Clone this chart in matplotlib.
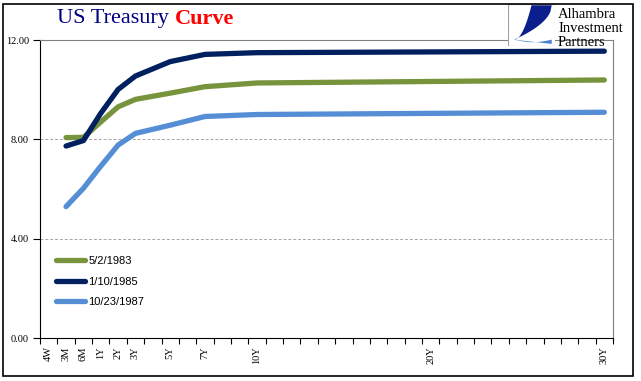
import numpy as np
import matplotlib.pyplot as plt
from matplotlib.patches import Rectangle, Polygon

# категории оси X (33 слота, как в Excel)
slots = ['4W', '3M', '6M'] + [f'{y}Y' for y in range(1, 31)]
shown = ['4W', '3M', '6M', '1Y', '2Y', '3Y', '5Y', '7Y', '10Y', '20Y', '30Y']

tenors = ['3M', '6M', '1Y', '2Y', '3Y', '5Y', '7Y', '10Y', '30Y']
y1983 = [8.07, 8.08, 8.70, 9.31, 9.61, 9.86, 10.12, 10.27, 10.39]
y1985 = [7.73, 7.95, 9.05, 10.01, 10.55, 11.13, 11.42, 11.49, 11.55]
y1987 = [5.29, 6.03, 6.92, 7.77, 8.24, 8.57, 8.92, 9.00, 9.09]

labels = ['5/2/1983', '1/10/1985', '10/23/1987']
colors = ['#77933C', '#002060', '#558ED5']
yticks = [0, 4, 8, 12]

serif = ['Liberation Serif', 'DejaVu Serif']
sans = ['Liberation Sans', 'DejaVu Sans']

fig = plt.figure(figsize=(6.41, 3.81), dpi=100)
W, H = 641, 381
ax = fig.add_axes([40 / W, 1 - 338 / H, (613 - 40) / W, (338 - 40) / H])

xs = [slots.index(t) for t in tenors]
for vals, lab, col in zip([y1983, y1985, y1987], labels, colors):
    ax.plot(xs, vals, color=col, lw=3.8, solid_capstyle='round',
            solid_joinstyle='round', label=lab, zorder=3)

ax.set_xlim(-0.5, len(slots) - 0.5)
ax.set_ylim(0, 12)

# деления на границах категорий, подписи по центру
ax.set_xticks([i - 0.5 for i in range(len(slots) + 1)])
ax.set_xticklabels([])
ax.tick_params(axis='x', which='major', direction='out', length=4, width=0.8)
ax.set_xticks([slots.index(s) for s in shown], minor=True)
ax.set_xticklabels(shown, minor=True, rotation=90, family=serif, fontsize=7.5)
ax.tick_params(axis='x', which='minor', length=0, pad=6)

ax.set_yticks(yticks)
ax.set_yticklabels([f'{v:.2f}' for v in yticks], family=serif, fontsize=7.5)
ax.tick_params(axis='y', direction='out', length=5, width=0.8, pad=3)

for v in [4, 8]:
    ax.axhline(v, color='#A6A6A6', lw=0.7, ls=(0, (3, 2)), zorder=1)

ax.spines['top'].set_color('#808080')
ax.spines['right'].set_color('#808080')
ax.spines['left'].set_color('black')
ax.spines['bottom'].set_color('black')

leg = ax.legend(loc='upper left', bbox_to_anchor=(56 / W, 1 - 256 / H),
                bbox_transform=fig.transFigure, frameon=False,
                prop={'family': sans, 'size': 8}, handlelength=2.6,
                handletextpad=0.3, labelspacing=0.95, borderpad=0,
                borderaxespad=0)

# заголовок
t1 = fig.text(57 / W, 1 - 19 / H, 'US Treasury ', color='#000080',
              family=serif, fontsize=16, va='center')
fig.canvas.draw()
bb = t1.get_window_extent()
fig.text(bb.x1 / W, 1 - 19 / H, 'Curve', color='#FF0000', family=serif,
         fontsize=16, fontweight='bold', va='center')

# логотип
lax = fig.add_axes([508 / W, 1 - 46 / H, 47 / W, 42 / H])
lax.set_xlim(0, 1)
lax.set_ylim(0, 1)
lax.axis('off')
lax.add_patch(Rectangle((0, 0), 1, 1, fc='white', ec='#A0A0A0', lw=0.8))
t = np.linspace(0, 1, 30)
outer = np.column_stack([0.93 - 0.8 * t, 0.97 - 0.82 * np.sqrt(t)])
inner = np.column_stack([0.13 + 0.37 * t, 0.15 + 0.82 * t ** 2])
lax.add_patch(Polygon(np.vstack([[[0.5, 0.97]], outer[::-1][::-1], inner]),
                      closed=True, fc='#0A1E8C', ec='none'))
swoosh_top = np.column_stack([0.13 + 0.8 * t, 0.15 - 0.06 * np.sin(np.pi * t) + 0.0 * t])
swoosh_bot = np.column_stack([0.93 - 0.8 * t, 0.05 + 0.1 * t])
lax.add_patch(Polygon(np.vstack([swoosh_top, swoosh_bot]), closed=True,
                      fc='#4A7FD0', ec='none'))
for i, w in enumerate(['Alhambra', 'Investment', 'Partners']):
    fig.text(558 / W, 1 - (14 + i * 14) / H, w, family=serif, fontsize=10.5,
             va='center', color='black')

# рамка вокруг рисунка
fig.patches.append(Rectangle((3 / W, 1 - 376 / H), 630 / W, 372 / H,
                             transform=fig.transFigure, fill=False,
                             ec='black', lw=1.2))

fig.savefig('out.png', dpi=100)
